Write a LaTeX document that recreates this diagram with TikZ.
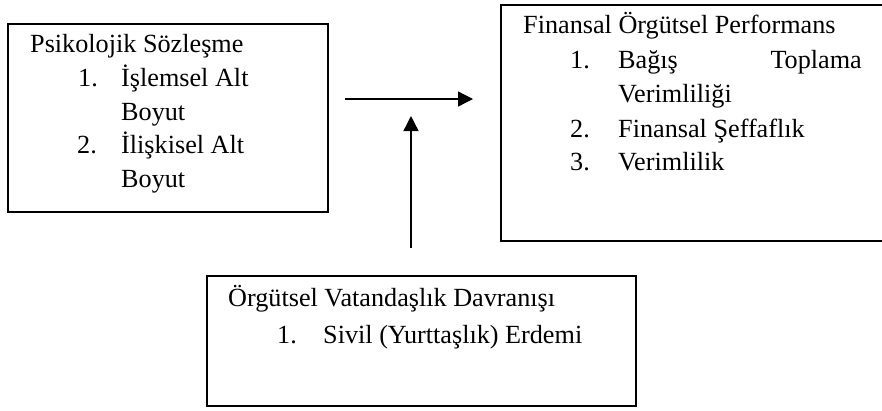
\documentclass[tikz,border=0pt]{standalone}
\usepackage{fontspec}
\setmainfont{Liberation Serif}
\usetikzlibrary{arrows.meta}
\begin{document}
\begin{tikzpicture}[x=1pt,y=-1pt,
  box/.style={draw, line width=1.3pt, inner sep=0pt},
  txt/.style={anchor=base west, inner sep=0pt, font=\fontsize{26.2}{30}\selectfont},
  txtr/.style={txt, anchor=base east},
  arr/.style={line width=1.3pt, -{Triangle[length=15pt,width=15pt]}}]
\useasboundingbox (0,0) rectangle (882,410);
% boxes
\node[box, minimum width=320pt, minimum height=188pt] (b1) at (168,118) {};
\node[box, minimum width=394pt, minimum height=236pt] (b2) at (698,123) {};
\node[box, minimum width=429pt, minimum height=130pt] (b3) at (421.5,341) {};
% box 1 text
\node[txt] (t1) at (30,52) {Psikolojik Sözleşme};
\node[txt] (n11) at (78,86) {1.};
\node[txt] (i11) at (121,86) {İşlemsel Alt};
\node[txt] (i12) at (121,120) {Boyut};
\node[txt] (n12) at (77,153) {2.};
\node[txt] (i13) at (121,153) {İlişkisel Alt};
\node[txt] (i14) at (121,187) {Boyut};
% box 2 text
\node[txt] (t2) at (523,33) {Finansal Örgütsel Performans};
\node[txt] (n21) at (570,68) {1.};
\node[txt] (i21) at (618,68) {Bağış};
\node[txtr] (i22) at (862,68) {Toplama};
\node[txt] (i23) at (618,102) {Verimliliği};
\node[txt] (n22) at (570,137) {2.};
\node[txt] (i24) at (618,137) {Finansal Şeffaflık};
\node[txt] (n23) at (570,170) {3.};
\node[txt] (i25) at (618,170) {Verimlilik};
% box 3 text
\node[txt] (t3) at (228,306) {Örgütsel Vatandaşlık Davranışı};
\node[txt] (n31) at (277,343) {1.};
\node[txt] (i31) at (323,343) {Sivil (Yurttaşlık) Erdemi};
% arrows
\coordinate (ha1) at (345,99);
\coordinate (ha2) at (473,99);
\coordinate (va1) at (411,248);
\coordinate (va2) at (411,116);
\draw[arr] (ha1) -- (ha2);
\draw[arr] (va1) -- (va2);
\end{tikzpicture}
\end{document}
